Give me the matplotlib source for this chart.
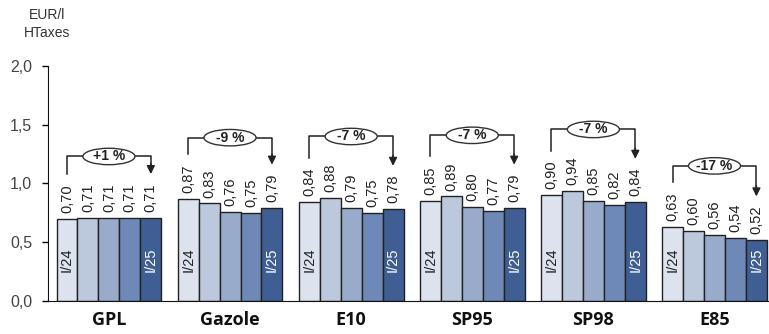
import numpy as np
import matplotlib.pyplot as plt
from matplotlib.patches import Ellipse

categories = ["GPL", "Gazole", "E10", "SP95", "SP98", "E85"]
values = [
    [0.70, 0.71, 0.71, 0.71, 0.71],
    [0.87, 0.83, 0.76, 0.75, 0.79],
    [0.84, 0.88, 0.79, 0.75, 0.78],
    [0.85, 0.89, 0.80, 0.77, 0.79],
    [0.90, 0.94, 0.85, 0.82, 0.84],
    [0.63, 0.60, 0.56, 0.54, 0.52],
]
changes = ["+1 %", "-9 %", "-7 %", "-7 %", "-7 %", "-17 %"]
first_label = "I/24"
last_label = "I/25"

colors = ["#dde3ee", "#bcc8dc", "#99abcb", "#6e88b8", "#3f5e93"]

plt.rcParams["font.family"] = ["Liberation Sans", "DejaVu Sans"]

fig = plt.figure(figsize=(7.69, 3.34), dpi=100)
ax = fig.add_axes([48 / 769, 33 / 334, (769 - 48) / 769, 235 / 334])

w = 0.173
x = np.arange(len(categories))
for i, vals in enumerate(values):
    for j, v in enumerate(vals):
        xp = x[i] + (j - 2) * w
        ax.bar(xp, v, width=w, color=colors[j], edgecolor="#222222", linewidth=1.0, zorder=2)
        ax.text(xp, v + 0.05, f"{v:.2f}".replace(".", ","), rotation=90,
                ha="center", va="bottom", fontsize=10.5, color="#222222")
    ax.text(x[i] - 2 * w, 0.35, first_label, rotation=90, ha="center", va="center",
            fontsize=10.5, color="#222222")
    ax.text(x[i] + 2 * w, 0.35, last_label, rotation=90, ha="center", va="center",
            fontsize=10.5, color="white")

    # bracket with change label
    yb = max(vals) + 0.52
    xl = x[i] - 2 * w
    xr = x[i] + 2 * w
    yl = vals[0] + 0.38
    yr = vals[-1] + 0.37
    ax.plot([xl, xl, xr, xr], [yl, yb, yb, yr + 0.07], color="#222222", lw=1.1, zorder=3)
    ax.annotate("", xy=(xr, yr), xytext=(xr, yr + 0.09),
                arrowprops=dict(arrowstyle="-|>", color="#222222", lw=1.1,
                                mutation_scale=12, shrinkA=0, shrinkB=0))
    ax.add_patch(Ellipse((x[i], yb), 0.43, 0.14, facecolor="white",
                         edgecolor="#333333", lw=1.0, zorder=4))
    ax.text(x[i], yb, changes[i], ha="center", va="center", fontsize=10,
            fontweight="bold", color="#222222", zorder=5)

ax.set_xlim(-0.503, 5.45)
ax.set_ylim(0, 2.0)
ax.set_yticks([0, 0.5, 1.0, 1.5, 2.0])
ax.set_yticklabels(["0,0", "0,5", "1,0", "1,5", "2,0"], fontsize=11.5, color="#444444")
ax.set_xticks(x)
ax.set_xticklabels(categories, fontsize=13, fontweight="bold", color="#111111",
                   family="Open Sans")
ax.tick_params(axis="x", length=0, pad=7)
ax.tick_params(axis="y", length=4.5, width=1, direction="out", pad=7)
for s in ["top", "right"]:
    ax.spines[s].set_visible(False)
ax.spines["left"].set_color("#111111")
ax.spines["bottom"].set_color("#111111")

fig.text(47 / 769, 1 - 24 / 334, "EUR/l\nHTaxes", fontsize=10, color="#333333",
         ha="center", va="center", linespacing=1.4)

fig.savefig("out.png", dpi=100)
